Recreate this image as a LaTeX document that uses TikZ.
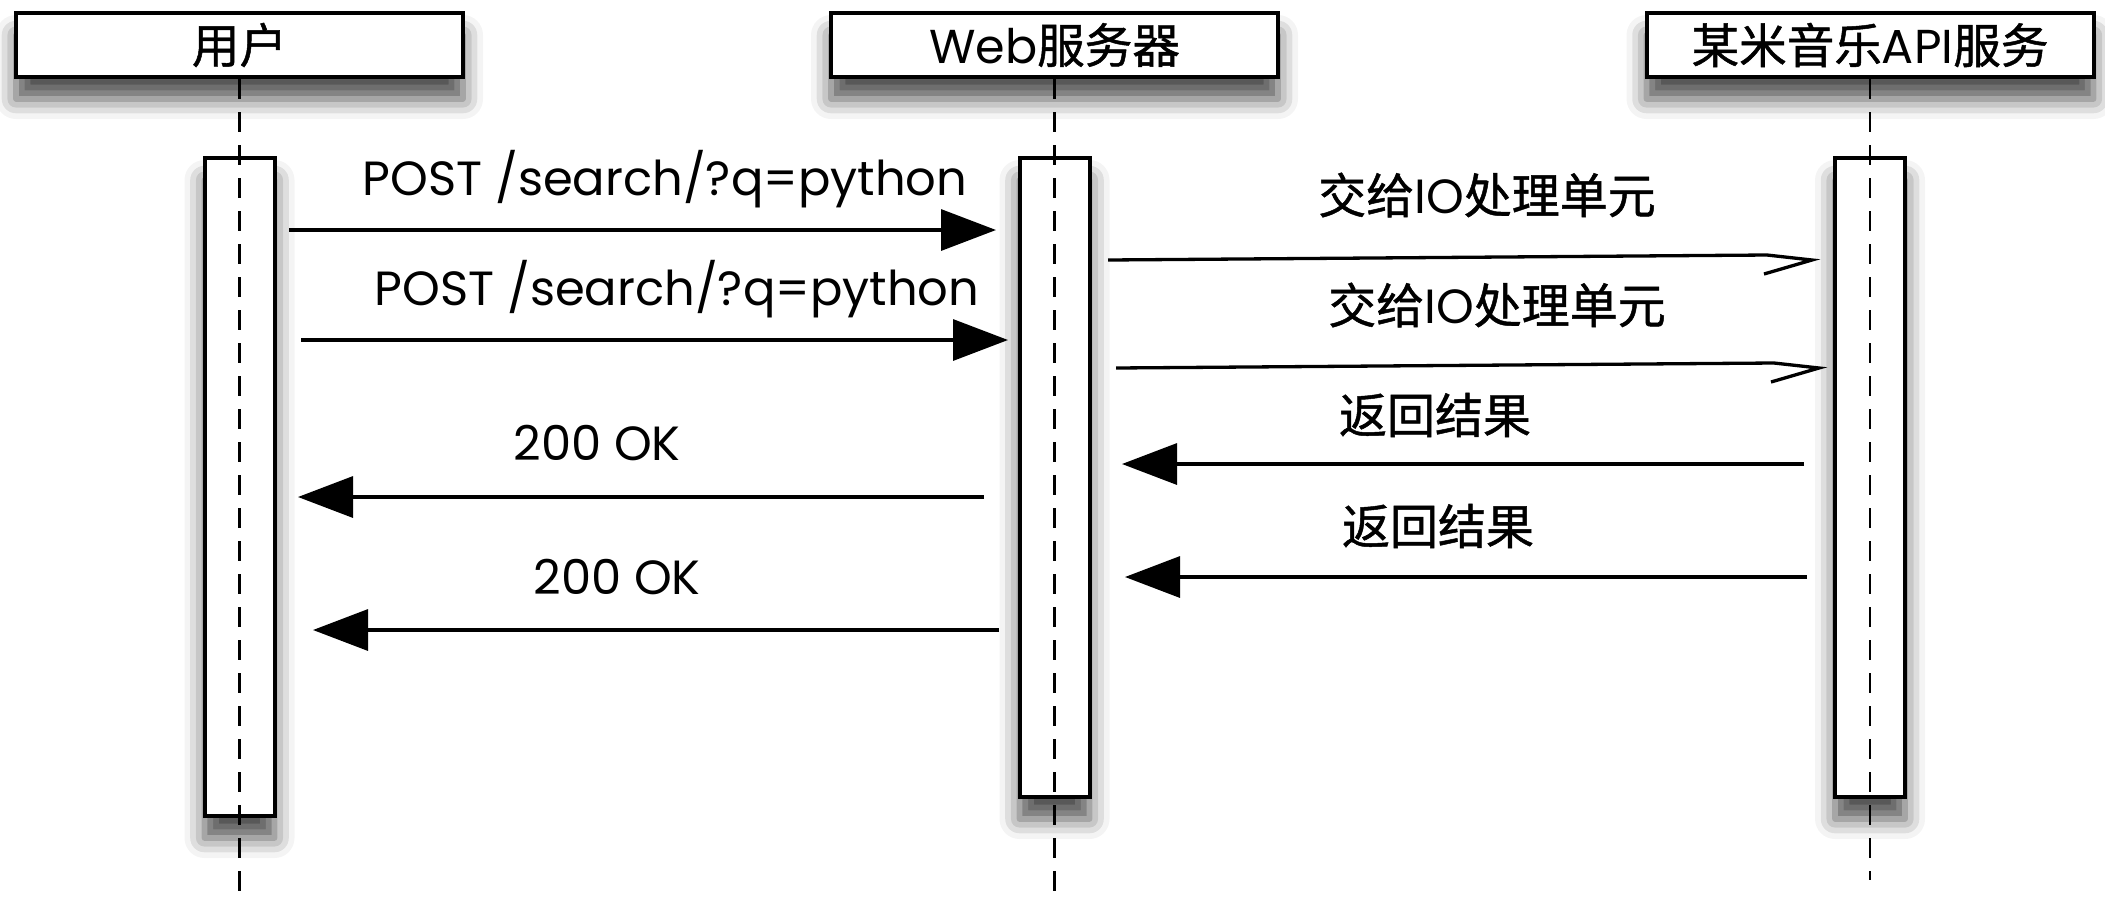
\documentclass[tikz,border=0pt]{standalone}
\usepackage{fontspec}
\setmainfont{Poppins}
\newfontfamily\cjk[FakeBold=1]{Noto Sans CJK SC}
\usetikzlibrary{arrows.meta,shadows.blur}
\tikzset{
shade/.style = {blur shadow={shadow xshift=0pt,shadow yshift=-11pt,shadow blur radius=10pt,shadow opacity=70}},
actor/.style = {draw,line width = 2pt,fill=white,minimum width = 223.5pt,minimum height = 32pt,inner sep=0pt,font=\fontsize{23.8}{26}\selectfont,shade},
act/.style = {draw,line width = 2pt,fill=white,minimum width = 35pt,inner sep=0pt,anchor=north,shade},
life/.style = {line width = 1.3pt,dash pattern=on 10pt off 6.5pt},
msg/.style = {line width = 1.65pt,-{Triangle[length=27.5pt,width=20.5pt]}},
ask/.style = {line width = 1.65pt,line join=miter},
tag/.style = {font=\fontsize{24}{26}\selectfont}
}

\begin{document}
\begin{tikzpicture}[x=0.5pt,y=-0.5pt]
%
\useasboundingbox (0,0) rectangle (2105,901);
%
% actors
\node[actor] (user) at (239.5,45) {{\cjk 用户}};
\node[actor] (web) at (1054.5,45) {Web{\cjk 服务器}};
\node[actor] (api) at (1870,45) {{\cjk 某米音乐}API{\cjk 服务}};
%
% activations
\node[act,minimum height = 329pt] (userbar) at (239.5,156) {};
\node[act,minimum height = 319.5pt] (webbar) at (1054.5,156) {};
\node[act,minimum height = 319.5pt] (apibar) at (1870,156) {};
%
% lifelines
\coordinate (userend) at (239.5,893);
\coordinate (webend) at (1054.5,893);
\coordinate (apiend) at (1870,880);
\foreach \who in {user,web,api}{
\draw[life] (\who.south)--(\who end);
}
%
% requests
\foreach \xa/\xb/\y/\xt/\yt [count=\i] in {289/996/230/665/179,301/1008/340/677/289}{
\coordinate (post\i a) at (\xa,\y);
\coordinate (post\i b) at (\xb,\y);
\draw[msg] (post\i a)--(post\i b);
\node[tag] (posttag\i) at (\xt,\yt){POST /search/?q=python};
}
%
\foreach \xa/\xb/\y/\xt/\yt [count=\i] in {1108/1812/260/1487/195,1116/1819/368/1497/305}{
\coordinate (io\i a) at (\xa,\y);
\coordinate (io\i k) at (\xb-45,\y-5);
\coordinate (io\i b) at (\xb,\y);
\coordinate (io\i h) at (\xb-48,\y+14);
\draw[ask] (io\i a)--(io\i k)--(io\i b)--(io\i h);
\node[tag] (iotag\i) at (\xt,\yt){{\cjk 交给}IO{\cjk 处理单元}};
}
%
% replies
\foreach \xa/\xb/\y/\xt/\yt [count=\i] in {1804/1122/464/1435/415,1807/1125/577/1438/526}{
\coordinate (ret\i a) at (\xa,\y);
\coordinate (ret\i b) at (\xb,\y);
\draw[msg] (ret\i a)--(ret\i b);
\node[tag] (rettag\i) at (\xt,\yt){{\cjk 返回结果}};
}
%
\foreach \xa/\xb/\y/\xt/\yt [count=\i] in {984/298/497/597/443,999/313/630/617/577}{
\coordinate (ok\i a) at (\xa,\y);
\coordinate (ok\i b) at (\xb,\y);
\draw[msg] (ok\i a)--(ok\i b);
\node[tag] (oktag\i) at (\xt,\yt){200 OK};
}
%
\end{tikzpicture}
\end{document}
